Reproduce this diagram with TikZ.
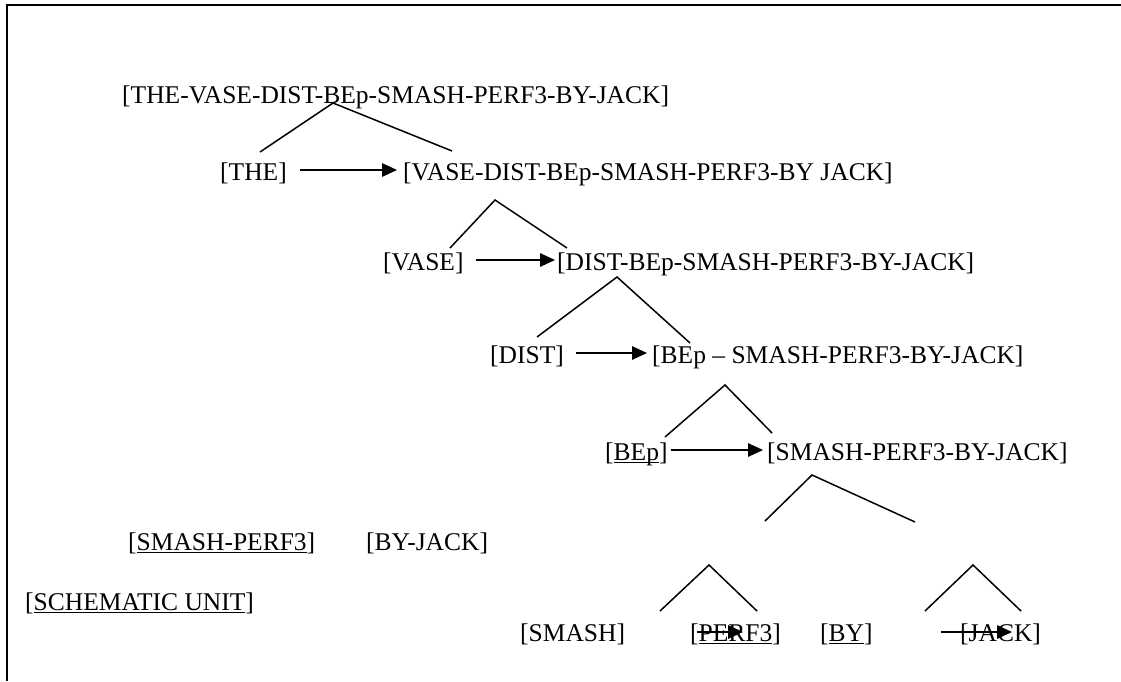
\documentclass[tikz,border=0pt]{standalone}
\usepackage{fontspec}
\setmainfont{Liberation Serif}
\usetikzlibrary{arrows.meta}
\newcommand\ulin[1]{\setbox0\hbox{#1}\rlap{\rule[-2.6pt]{\wd0}{1pt}}\box0}
\begin{document}
\begin{tikzpicture}[x=1pt,y=-1pt,
  txt/.style={anchor=base west,inner sep=0pt,font=\fontsize{25.5}{30}\selectfont,text height=20pt,text depth=0pt},
  leg/.style={line width=1.5pt},
  arr/.style={line width=1.6pt,-{Triangle[length=15pt,width=13.5pt]}},
  frame/.style={line width=2pt}]
\useasboundingbox (0,0) rectangle (1121,681);
\draw[frame] (7,681) -- (7,5) -- (1121,5);
% text nodes
\node[txt] (top) at (122,103) {[THE-VASE-DIST-BEp-SMASH-PERF3-BY-JACK]};
\node[txt] (the) at (220,180) {[THE]};
\node[txt] (r1) at (403,180) {[VASE-DIST-BEp-SMASH-PERF3-BY JACK]};
\node[txt] (vase) at (383,270) {[VASE]};
\node[txt] (r2) at (557,270) {[DIST-BEp-SMASH-PERF3-BY-JACK]};
\node[txt] (dist) at (490,363) {[DIST]};
\node[txt] (r3) at (652,363) {[BEp – SMASH-PERF3-BY-JACK]};
\node[txt] (bep) at (605,460) {[\ulin{BEp}]};
\node[txt] (r4) at (767,460) {[SMASH-PERF3-BY-JACK]};
\node[txt] (smp) at (128,550) {[\ulin{SMASH-PERF3}]};
\node[txt] (byj) at (366,550) {[BY-JACK]};
\node[txt] (schem) at (25,610) {[\ulin{SCHEMATIC UNIT}]};
\node[txt] (smash) at (520,641) {[SMASH]};
\node[txt] (perf) at (690,641) {[\ulin{PERF3}]};
\node[txt] (by) at (820,641) {[\ulin{BY}]};
\node[txt] (jack) at (960,641) {[JACK]};
% tree coordinates
\coordinate (t1v) at (333,103); \coordinate (t1l) at (260,152); \coordinate (t1r) at (452,151);
\coordinate (t2v) at (495,200); \coordinate (t2l) at (450,248); \coordinate (t2r) at (567,248);
\coordinate (t3v) at (617,277); \coordinate (t3l) at (537,337); \coordinate (t3r) at (690,343);
\coordinate (t4v) at (725,385); \coordinate (t4l) at (665,437); \coordinate (t4r) at (772,433);
\coordinate (t5v) at (812,475); \coordinate (t5l) at (765,521); \coordinate (t5r) at (915,522);
\coordinate (t6v) at (709,565); \coordinate (t6l) at (660,611); \coordinate (t6r) at (757,611);
\coordinate (t7v) at (973,565); \coordinate (t7l) at (925,611); \coordinate (t7r) at (1021,611);
\foreach \t in {t1,t2,t3,t4,t5,t6,t7}{\draw[leg] (\t l) -- (\t v) -- (\t r);}
% arrows
\draw[arr] ([xshift=13pt]the.east) -- ([xshift=-6pt]r1.west);
\draw[arr] ([xshift=12pt]vase.east) -- ([xshift=-2pt]r2.west);
\draw[arr] ([xshift=12pt]dist.east) -- ([xshift=-5pt]r3.west);
\draw[arr] ([xshift=3pt]bep.east) -- ([xshift=-4pt]r4.west);
\draw[arr] ([xshift=7pt,yshift=9pt]perf.base west) -- ([xshift=53pt,yshift=9pt]perf.base west);
\draw[arr] ([xshift=-19pt,yshift=9pt]jack.base west) -- ([xshift=52pt,yshift=9pt]jack.base west);
\end{tikzpicture}
\end{document}
